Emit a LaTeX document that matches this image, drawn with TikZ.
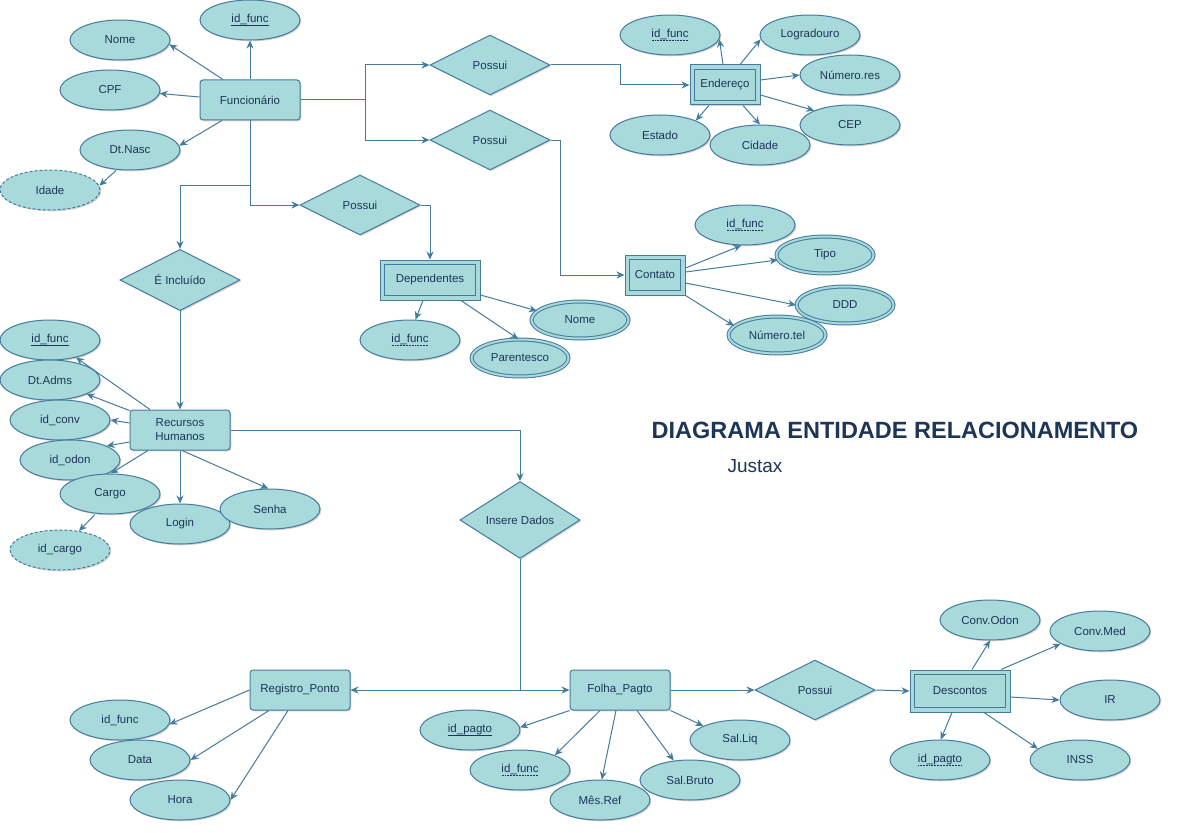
\documentclass[tikz,border=0pt]{standalone}
\usepackage{fontspec}
\setmainfont{Liberation Sans}
\usetikzlibrary{shapes.geometric,arrows.meta,shadows}
\definecolor{fillc}{HTML}{A8DADC}
\definecolor{strokec}{HTML}{457B9D}
\definecolor{textc}{HTML}{1D3557}
\newsavebox\ulbox
\newcommand\sul[1]{\sbox\ulbox{#1}\leavevmode\rlap{\raisebox{-2.6pt}{\rule{\wd\ulbox}{0.7pt}}}\usebox\ulbox}
\newcommand\dul[1]{\sbox\ulbox{#1}\leavevmode\rlap{\raisebox{-2.6pt}{\hbox to \wd\ulbox{\xleaders\hbox to 1.5pt{\hss\rule{0.75pt}{0.7pt}\hss}\hfill}}}\usebox\ulbox}
\begin{document}
\begin{tikzpicture}[x=1pt,y=-1pt,
  shad/.style={drop shadow={shadow xshift=1.3pt,shadow yshift=-1.3pt,opacity=0.18,fill=black}},
  base/.style={draw=strokec,fill=fillc,line width=1pt,text=textc,font=\fontsize{11.5}{14}\selectfont,shad},
  ent/.style={base,rectangle,rounded corners=3pt,minimum width=100pt,minimum height=40pt,inner sep=2pt},
  weak/.style={base,rectangle,minimum width=100pt,minimum height=40pt,inner sep=2pt},
  innerrect/.style={draw=strokec,line width=1pt},
  attr/.style={base,ellipse,minimum width=100pt,minimum height=40pt,inner sep=0pt},
  mattr/.style={base,ellipse,double=fillc,double distance=2pt,minimum width=97pt,minimum height=37pt,inner sep=0pt},
  dattr/.style={attr,dash pattern=on 3pt off 2pt},
  rel/.style={base,diamond,minimum width=120pt,minimum height=60pt,inner sep=0pt},
  conn/.style={draw=strokec,line width=1pt,-{Stealth[length=8pt,width=7pt]}}]
\fill[white] (0,0) rectangle (1177,832);
\useasboundingbox (0,0) rectangle (1177,832);

% ---------- Funcionario ----------
\node[ent] (func) at (250,100) {Funcionário};
\node[attr] (fid) at (250,20) {\sul{id\_func}};
\node[attr] (nome) at (120,40) {Nome};
\node[attr] (cpf) at (110,90) {CPF};
\node[attr] (dtn) at (130,150) {Dt.Nasc};
\node[dattr] (idade) at (50,190) {Idade};

% ---------- relationships ----------
\node[rel] (p1) at (490,65) {Possui};
\node[rel] (p2) at (490,140) {Possui};
\node[rel] (p3) at (360,205) {Possui};
\node[rel] (incl) at (180,280) {É Incluído};
\node[rel] (ins) at (520,520) {Insere Dados};
\node[rel] (p4) at (815,690) {Possui};

% ---------- Endereco ----------
\node[weak,minimum width=70pt] (end) at (725,85) {Endereço};
\node[attr] (efid) at (670,35) {\dul{id\_func}};
\node[attr] (logr) at (810,35) {Logradouro};
\node[attr] (nres) at (850,75) {Número.res};
\node[attr] (cep) at (850,125) {CEP};
\node[attr] (est) at (660,135) {Estado};
\node[attr] (cid) at (760,145) {Cidade};

% ---------- Contato ----------
\node[weak,minimum width=60pt] (cont) at (655,275) {Contato};
\node[attr] (cfid) at (745,225) {\dul{id\_func}};
\node[mattr] (tipo) at (825,255) {Tipo};
\node[mattr] (ddd) at (845,305) {DDD};
\node[mattr] (ntel) at (777,335) {Número.tel};

% ---------- Dependentes ----------
\node[weak] (dep) at (430,280) {Dependentes};
\node[attr] (dfid) at (410,340) {\dul{id\_func}};
\node[mattr] (dnome) at (580,320) {Nome};
\node[mattr] (par) at (520,358) {Parentesco};

% ---------- Recursos Humanos ----------
\node[ent,align=center] (rh) at (180,430) {Recursos\\Humanos};
\node[attr] (rfid) at (50,340) {\sul{id\_func}};
\node[attr] (radm) at (50,380) {Dt.Adms};
\node[attr] (rconv) at (60,420) {id\_conv};
\node[attr] (rodon) at (70,460) {id\_odon};
\node[attr] (cargo) at (110,494) {Cargo};
\node[attr] (login) at (180,524) {Login};
\node[attr] (senha) at (270,509) {Senha};
\node[dattr] (icargo) at (60,550) {id\_cargo};

% ---------- Registro_Ponto ----------
\node[ent] (reg) at (300,690) {Registro\_Ponto};
\node[attr] (rgfid) at (120,720) {id\_func};
\node[attr] (data) at (140,760) {Data};
\node[attr] (hora) at (180,800) {Hora};

% ---------- Folha_Pagto ----------
\node[ent] (folha) at (620,690) {Folha\_Pagto};
\node[attr] (fpid) at (470,730) {\sul{id\_pagto}};
\node[attr] (ffid) at (520,770) {\dul{id\_func}};
\node[attr] (mes) at (600,800) {Mês.Ref};
\node[attr] (sbr) at (690,780) {Sal.Bruto};
\node[attr] (sliq) at (740,740) {Sal.Liq};

% ---------- Descontos ----------
\node[weak,minimum height=42pt] (desc) at (960,691) {Descontos};
\node[attr] (codon) at (990,620) {Conv.Odon};
\node[attr] (cmed) at (1100,631) {Conv.Med};
\node[attr] (ir) at (1110,700) {IR};
\node[attr] (inss) at (1080,760) {INSS};
\node[attr] (dpid) at (940,760) {\dul{id\_pagto}};

% ---------- inner frames of weak entities ----------
\foreach \w in {end,cont,dep,desc}{
  \draw[innerrect] ([shift={(5pt,-5pt)}]\w.north west) rectangle ([shift={(-5pt,5pt)}]\w.south east);
}

% ---------- title ----------
\node[text=textc,font=\bfseries\fontsize{23.5}{27}\selectfont] (title) at (895,430) {DIAGRAMA ENTIDADE RELACIONAMENTO};
\node[text=textc,font=\fontsize{19}{22}\selectfont] (sub) at (755,466) {Justax};

% ---------- connectors: Funcionario ----------
\draw[conn] (func.north) -- (fid.south);
\draw[conn] ([xshift=-27pt]func.north) -- (nome.-5);
\draw[conn] ([yshift=3pt]func.west) -- (cpf.-4);
\draw[conn] ([xshift=-28pt]func.south) -- (dtn.5);
\draw[conn] ([xshift=-14pt]dtn.south) -- (idade.5);
\draw[conn] (func.east) -- ++(65,0) |- (p1.west);
\draw[conn] (func.east) -- ++(65,0) |- (p2.west);
\draw[conn] (func.south) |- (p3.west);
\draw[conn] ([yshift=-65pt]func.south) -| (incl.north);

% ---------- Endereco ----------
\draw[conn] (p1.east) -- ++(70,0) |- (end.west);
\draw[conn] ([xshift=-2pt]end.north) -- (efid.-5);
\draw[conn] ([xshift=15pt]end.north) -- (logr.185);
\draw[conn] ([yshift=5pt]end.east) -- (nres.west);
\draw[conn] ([yshift=-10pt]end.east) -- (cep.158);
\draw[conn] ([xshift=-16pt]end.south) -- (est.22);
\draw[conn] ([xshift=18pt]end.south) -- (cid.north);

% ---------- Contato ----------
\draw[conn] (p2.east) -- ++(10,0) |- (cont.west);
\draw[conn] ([yshift=7pt]cont.east) -- (cfid.260);
\draw[conn] ([yshift=3pt]cont.east) -- (tipo.186);
\draw[conn] ([yshift=-8pt]cont.east) -- (ddd.west);
\draw[conn] (cont.south east) -- (ntel.168);

% ---------- Dependentes ----------
\draw[conn] (p3.east) -| (dep.north);
\draw[conn] ([xshift=-7pt]dep.south) -- (dfid.75);
\draw[conn] ([yshift=-15pt]dep.east) -- (dnome.168);
\draw[conn] ([xshift=31pt]dep.south) -- (par.95);

% ---------- Recursos Humanos ----------
\draw[conn] (incl.south) -- (rh.north);
\draw[conn] ([xshift=-30pt]rh.north) -- (rfid.-34);
\draw[conn] ([yshift=-1pt]rh.north west) -- (radm.-21);
\draw[conn] ([yshift=7pt]rh.west) -- (rconv.east);
\draw[conn] ([yshift=-12pt]rh.west) -- (rodon.21);
\draw[conn] ([xshift=-32pt]rh.south) -- (cargo.88);
\draw[conn] (rh.south) -- (login.north);
\draw[conn] ([xshift=2pt]rh.south) -- (senha.95);
\draw[conn] ([xshift=-15pt]cargo.south) -- (icargo.45);

% ---------- Insere Dados ----------
\draw[conn] (rh.east) -| (ins.north);
\draw[conn] (ins.south) |- (reg.east);
\draw[conn] (ins.south) |- (folha.west);

% ---------- Registro_Ponto ----------
\draw[conn] (reg.west) -- (rgfid.-5);
\draw[conn] ([xshift=-31pt]reg.south) -- (data.east);
\draw[conn] ([xshift=-12pt]reg.south) -- (hora.east);

% ---------- Folha_Pagto ----------
\draw[conn] (folha.south west) -- (fpid.3);
\draw[conn] ([xshift=-20pt]folha.south) -- (ffid.23);
\draw[conn] ([xshift=-4pt]folha.south) -- (mes.85);
\draw[conn] ([xshift=17pt]folha.south) -- (sbr.130);
\draw[conn] (folha.south east) -- (sliq.159);
\draw[conn] (folha.east) -- (p4.west);
\draw[conn] (p4.east) -- (desc.west);

% ---------- Descontos ----------
\draw[conn] ([xshift=12pt]desc.north) -- (codon.south);
\draw[conn] ([xshift=41pt]desc.north) -- (cmed.198);
\draw[conn] ([yshift=-6pt]desc.east) -- (ir.west);
\draw[conn] ([xshift=24pt]desc.south) -- (inss.165);
\draw[conn] ([xshift=-8pt]desc.south) -- (dpid.88);
\end{tikzpicture}
\end{document}
